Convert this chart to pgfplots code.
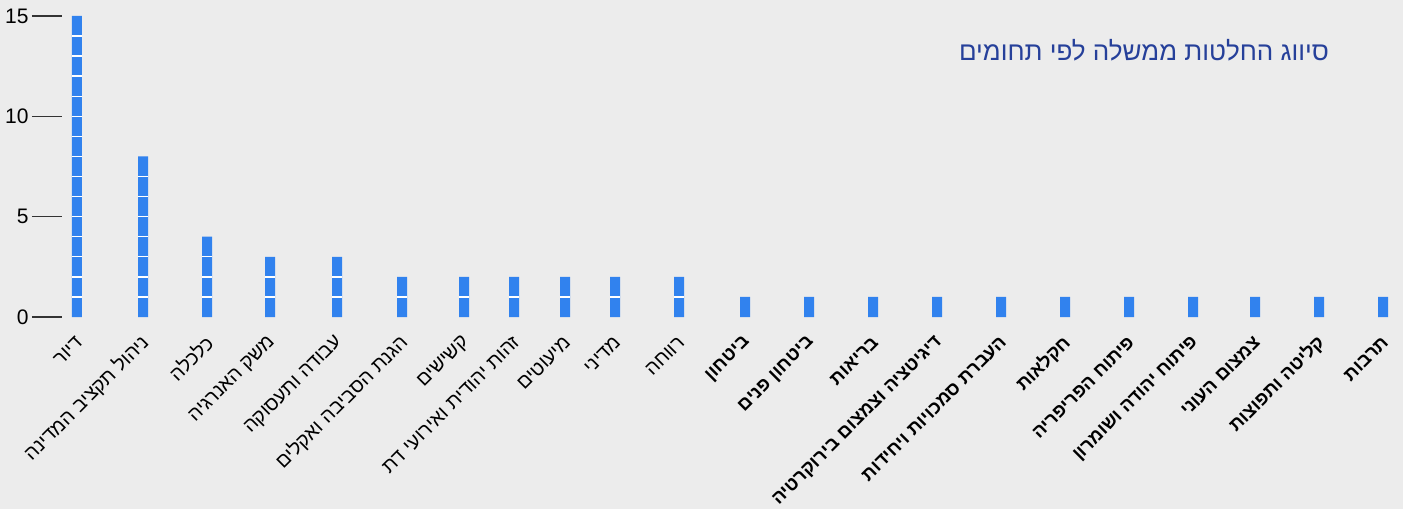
\documentclass[border=0pt]{standalone}
\usepackage{fontspec}
\setmainfont{Liberation Sans}
\newfontfamily\hebfont[Script=Hebrew]{Liberation Sans}
\TeXXeTstate=1
\usepackage{pgfplots}
\pgfplotsset{compat=1.18}
\usepackage{pgfplotstable}

\definecolor{barblue}{RGB}{49,130,238}
\definecolor{titleblue}{RGB}{38,64,154}
\definecolor{bgpaper}{RGB}{236,236,236}

\newcommand{\heb}[1]{{\hebfont\fontsize{9.9}{11}\selectfont\beginR #1\endR}}
\newcommand{\hebb}[1]{{\hebfont\bfseries\fontsize{9.3}{11}\selectfont\beginR #1\endR}}

% x = position of the bar in the picture, v = number of decisions
\pgfplotstableread{
x v
77 15
143 8
207 4
270 3
337 3
402 2
464 2
514 2
565 2
615 2
679 2
745 1
809 1
873 1
937 1
1001 1
1065 1
1129 1
1193 1
1255 1
1319 1
1383 1
}\data

\begin{document}
\begin{tikzpicture}
\fill[bgpaper, use as bounding box] (-31pt,158.5pt) rectangle (670.5pt,-96pt);
\begin{axis}[
  at={(0,0)}, anchor=south west,
  x=0.5pt, y=10.035pt,
  xmin=62, xmax=1403, ymin=0, ymax=15.5,
  clip=false,
  axis line style={draw=none},
  ytick={0,5,10,15},
  ytick style={draw=black!80, line width=0.75pt},
  major tick length=15pt,
  tick align=outside,
  /pgf/number format/assume math mode=true,
  yticklabel style={font=\fontsize{10.5}{12}\selectfont, inner sep=1.5pt},
  xtick={77,143,207,270,337,402,464,514,565,615,679,745,809,873,937,1001,1065,1129,1193,1255,1319,1383},
  xtick style={draw=none},
  xticklabels={\heb{דיור},\heb{ניהול תקציב המדינה},\heb{כלכלה},\heb{משק האנרגיה},\heb{עבודה ותעסוקה},\heb{הגנת הסביבה ואקלים},\heb{קשישים},\heb{זהות יהודית ואירועי דת},\heb{מיעוטים},\heb{מדיני},\heb{רווחה},\hebb{ביטחון},\hebb{ביטחון פנים},\hebb{בריאות},\hebb{דיגיטציה וצמצום בירוקרטיה},\hebb{העברת סמכויות ויחידות},\hebb{חקלאות},\hebb{פיתוח הפריפריה},\hebb{פיתוח יהודה ושומרון},\hebb{צמצום העוני},\hebb{קליטה ותפוצות},\hebb{תרבות}},
  xticklabel style={xshift=2pt, yshift=4.5pt, rotate=45, anchor=east, inner sep=1pt},
  title={\heb{\fontsize{13}{15}\selectfont סיווג החלטות ממשלה לפי תחומים}},
  title style={at={(axis description cs:0.950,0.82)}, anchor=east, text=titleblue},
]
\addplot[ybar, bar width=5pt, bar shift=0pt, fill=barblue, draw=none] table[x=x, y=v]{\data};
% white gaps between the unit blocks of each bar
\pgfplotsinvokeforeach{1,...,14}{
  \addplot[only marks, mark=-, mark size=2.6pt, mark options={draw=white, line width=0.7pt},
    restrict y to domain=0:20] table[x=x, y expr={\thisrow{v}>#1 ? #1 : -10}]{\data};
}
\end{axis}
\end{tikzpicture}
\end{document}
